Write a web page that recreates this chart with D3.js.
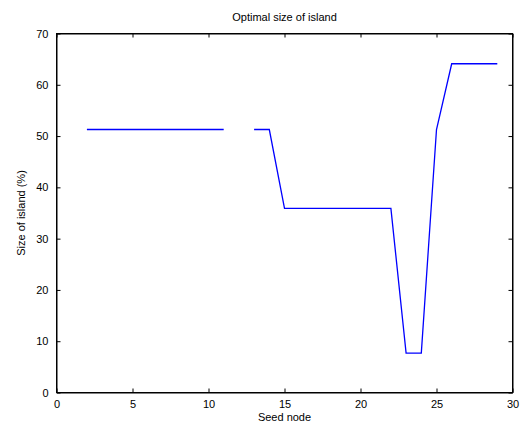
<!DOCTYPE html>
<html><head><meta charset="utf-8">
<script src="https://cdn.jsdelivr.net/npm/d3@7"></script>
<style>body{margin:0;background:#fff}svg{display:block}text{font-family:"Liberation Sans",Arial,sans-serif;fill:#000}</style>
</head><body>
<svg id="c" width="523" height="427"></svg>
<script>
const seedNodes = [2,3,4,5,6,7,8,9,10,11,12,13,14,15,16,17,18,19,20,21,22,23,24,25,26,27,28,29];
const islandSize = [51.28,51.28,51.28,51.28,51.28,51.28,51.28,51.28,51.28,51.28,null,51.28,51.28,35.9,35.9,35.9,35.9,35.9,35.9,35.9,35.9,7.69,7.69,51.28,64.1,64.1,64.1,64.1];
const xTicks = [0,5,10,15,20,25,30];
const yTicks = [0,10,20,30,40,50,60,70];

const svg = d3.select("#c");
const L=56.5, R=512.5, T=33.5, B=392.5;
const x = d3.scaleLinear().domain([0,30]).range([L,R]);
const y = d3.scaleLinear().domain([0,70]).range([B,T]);

const g = svg.append("g");
g.append("rect").attr("x",L).attr("y",T).attr("width",R-L).attr("height",B-T)
 .attr("fill","none").attr("stroke","#000").attr("stroke-width",1);

const tl=4;
const ax = [
  d3.axisBottom(x).tickValues(xTicks).tickSizeInner(-tl).tickSizeOuter(0).tickPadding(8),
  d3.axisTop(x).tickValues(xTicks).tickSizeInner(-tl).tickSizeOuter(0).tickFormat(""),
  d3.axisLeft(y).tickValues(yTicks).tickSizeInner(-tl).tickSizeOuter(0).tickPadding(8),
  d3.axisRight(y).tickValues(yTicks).tickSizeInner(-tl).tickSizeOuter(0).tickFormat("")
];
const pos = [[0,B],[0,T],[L,0],[R,0]];
ax.forEach((a,i)=>{
  const ag = g.append("g").attr("transform",`translate(${pos[i][0]},${pos[i][1]})`).call(a);
  ag.select(".domain").attr("stroke","#000");
  ag.selectAll(".tick line").attr("stroke","#000");
  ag.selectAll("text").attr("font-size",11).attr("fill","#000").style("font-family","Liberation Sans, Arial, sans-serif");
});

const line = d3.line().defined((d,i)=>islandSize[i]!==null)
  .x((d,i)=>x(seedNodes[i])).y((d,i)=>y(islandSize[i]));
g.append("path").datum(seedNodes).attr("d",line).attr("fill","none")
 .attr("stroke","#0000ff").attr("stroke-width",1.3);

svg.append("text").attr("x",(L+R)/2).attr("y",21).attr("text-anchor","middle").attr("font-size",11).text("Optimal size of island");
svg.append("text").attr("x",(L+R)/2).attr("y",421).attr("text-anchor","middle").attr("font-size",11).text("Seed node");
svg.append("text").attr("transform",`translate(25,${(T+B)/2}) rotate(-90)`).attr("text-anchor","middle").attr("font-size",11).text("Size of island (%)");
</script>
</body></html>
